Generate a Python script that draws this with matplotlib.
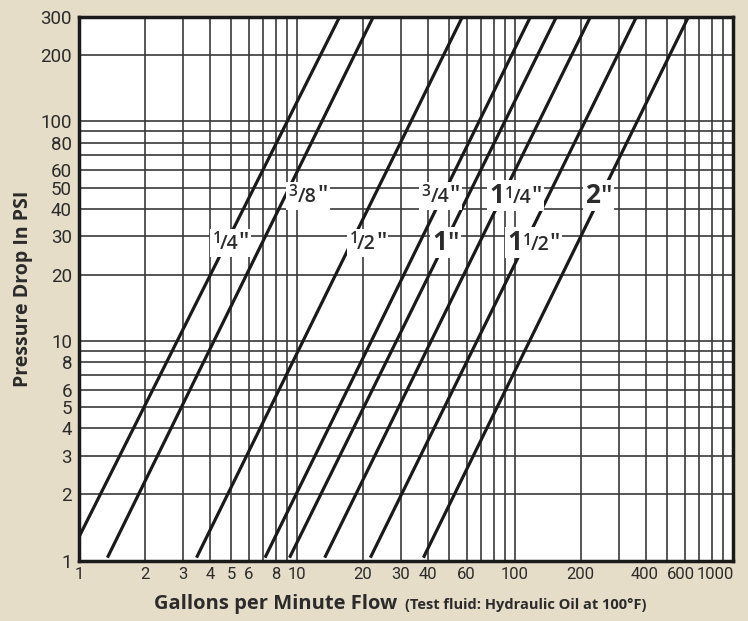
import matplotlib
matplotlib.use("Agg")
import matplotlib.pyplot as plt
from matplotlib.offsetbox import TextArea, HPacker, AnnotationBbox
from matplotlib.transforms import ScaledTranslation

# ---- data ----
sizes = ['1/4', '3/8', '1/2', '3/4', '1', '1 1/4', '1 1/2', '2']
flow_start = [1.0, 1.35, 3.46, 7.13, 9.24, 13.4, 21.7, 38.0]      # GPM at lower end
psi_start = [1.28, 1.03, 1.03, 1.03, 1.03, 1.03, 1.03, 1.03]      # PSI at lower end
flow_end = [15.7, 22.4, 57.4, 117.8, 155.0, 222.0, 361.0, 625.0]  # GPM at upper end
psi_end = [300, 300, 300, 300, 300, 300, 300, 300]                # PSI at upper end

x_ticks = [1, 2, 3, 4, 5, 6, 8, 10, 20, 30, 40, 60, 100, 200, 400, 600, 1000]
y_ticks = [1, 2, 3, 4, 5, 6, 8, 10, 20, 30, 40, 50, 60, 80, 100, 200, 300]

# label placement (flow, psi) for the size tags
label_flow = [4.95, 11.2, 21.1, 45.5, 48.0, 100.5, 121.6, 241.6]
label_psi = [28.0, 45.8, 28.0, 45.8, 28.0, 45.8, 28.0, 45.8]

BG = '#E6DDC8'
TXT = '#2b2b2b'
FAM = ['Open Sans', 'DejaVu Sans']

plt.rcParams['mathtext.fontset'] = 'custom'
plt.rcParams['mathtext.rm'] = 'Open Sans:semibold'
plt.rcParams['mathtext.bf'] = 'Open Sans:bold'
plt.rcParams['mathtext.it'] = 'Open Sans:italic'

fig = plt.figure(figsize=(7.48, 6.21), dpi=100, facecolor=BG)
ax = fig.add_axes([79/748, 1-560.5/621, (733-79)/748, (560.5-16.7)/621])
ax.set_facecolor('white')
ax.set_xscale('log')
ax.set_yscale('log')
ax.set_xlim(1, 1000)
ax.set_ylim(1, 300)

# grid lines at every 1..9 x 10^k
for k in range(0, 3):
    for m in range(1, 10):
        v = m * 10 ** k
        if 1 < v < 1000:
            ax.axvline(v, color='#3a3a3a', lw=1.2, zorder=1)
        if 1 < v < 300:
            ax.axhline(v, color='#3a3a3a', lw=1.2, zorder=1)

# flow lines
for i in range(len(sizes)):
    ax.plot([flow_start[i], flow_end[i]], [psi_start[i], psi_end[i]],
            color='#1a1a1a', lw=2.3, zorder=3, solid_capstyle='butt')

def make_label(s):
    parts = s.split(' ')
    if len(parts) == 2:
        whole, frac = parts
    elif '/' in parts[0]:
        whole, frac = '', parts[0]
    else:
        whole, frac = parts[0], ''
    kids = []
    if whole:
        kids.append(TextArea(whole, textprops=dict(fontsize=19, fontweight='bold',
                                                   family=FAM, color=TXT)))
    if frac:
        n, d = frac.split('/')
        kids.append(TextArea(r'$^{%s}$' % n, textprops=dict(fontsize=16, color=TXT)))
        kids.append(TextArea('/' + d, textprops=dict(fontsize=14, fontweight='semibold',
                                                      family=FAM, color=TXT)))
        qs = 17
    else:
        qs = 19
    kids.append(TextArea('"', textprops=dict(fontsize=qs, fontweight='semibold',
                                             family=FAM, color=TXT)))
    return HPacker(children=kids[:-1] + [HPacker(children=[kids[-1]], pad=0, sep=0)],
                   align='baseline', pad=0, sep=0)

for i, s in enumerate(sizes):
    box = make_label(s)
    # small gap before the inch mark
    box.get_children()[-1].pad = 0
    ab = AnnotationBbox(box, (label_flow[i], label_psi[i]), xycoords='data',
                        box_alignment=(0.5, 0.5), frameon=True, pad=0.12,
                        bboxprops=dict(boxstyle='square,pad=0.15', fc='white', ec='none'))
    ab.set_zorder(5)
    ax.add_artist(ab)

ax.set_xticks(x_ticks)
ax.set_xticklabels([str(v) for v in x_ticks])
ax.set_yticks(y_ticks)
ax.set_yticklabels([str(v) for v in y_ticks])
ax.minorticks_off()
ax.tick_params(length=0, colors=TXT)
ax.tick_params(axis='x', pad=5, labelsize=12)
ax.tick_params(axis='y', pad=5, labelsize=13.5)
for lab in ax.get_xticklabels() + ax.get_yticklabels():
    lab.set_family(['Roboto', 'DejaVu Sans'])
xl = ax.get_xticklabels()
xl[-1].set_horizontalalignment('right')
xl[-1].set_transform(xl[-1].get_transform() + ScaledTranslation(1/100, 0, fig.dpi_scale_trans))
xl[-2].set_transform(xl[-2].get_transform() + ScaledTranslation(-4/100, 0, fig.dpi_scale_trans))
xl[-3].set_transform(xl[-3].get_transform() + ScaledTranslation(-2/100, 0, fig.dpi_scale_trans))

for sp in ax.spines.values():
    sp.set_linewidth(2.5)
    sp.set_color('#1a1a1a')
    sp.set_zorder(6)

fig.text(23/748, 1-289/621, 'Pressure Drop In PSI', rotation=90, ha='center', va='center',
         fontsize=14, fontweight='bold', color=TXT, family=FAM)
fig.text(397/748, 1-604/621, 'Gallons per Minute Flow', ha='right', va='center',
         fontsize=14.5, fontweight='bold', color=TXT, family=FAM)
fig.text(405/748, 1-605/621, '(Test fluid: Hydraulic Oil at 100°F)', ha='left', va='center',
         fontsize=10.5, fontweight='bold', color=TXT, family=FAM)

fig.savefig('out.png', dpi=100, facecolor=BG)
